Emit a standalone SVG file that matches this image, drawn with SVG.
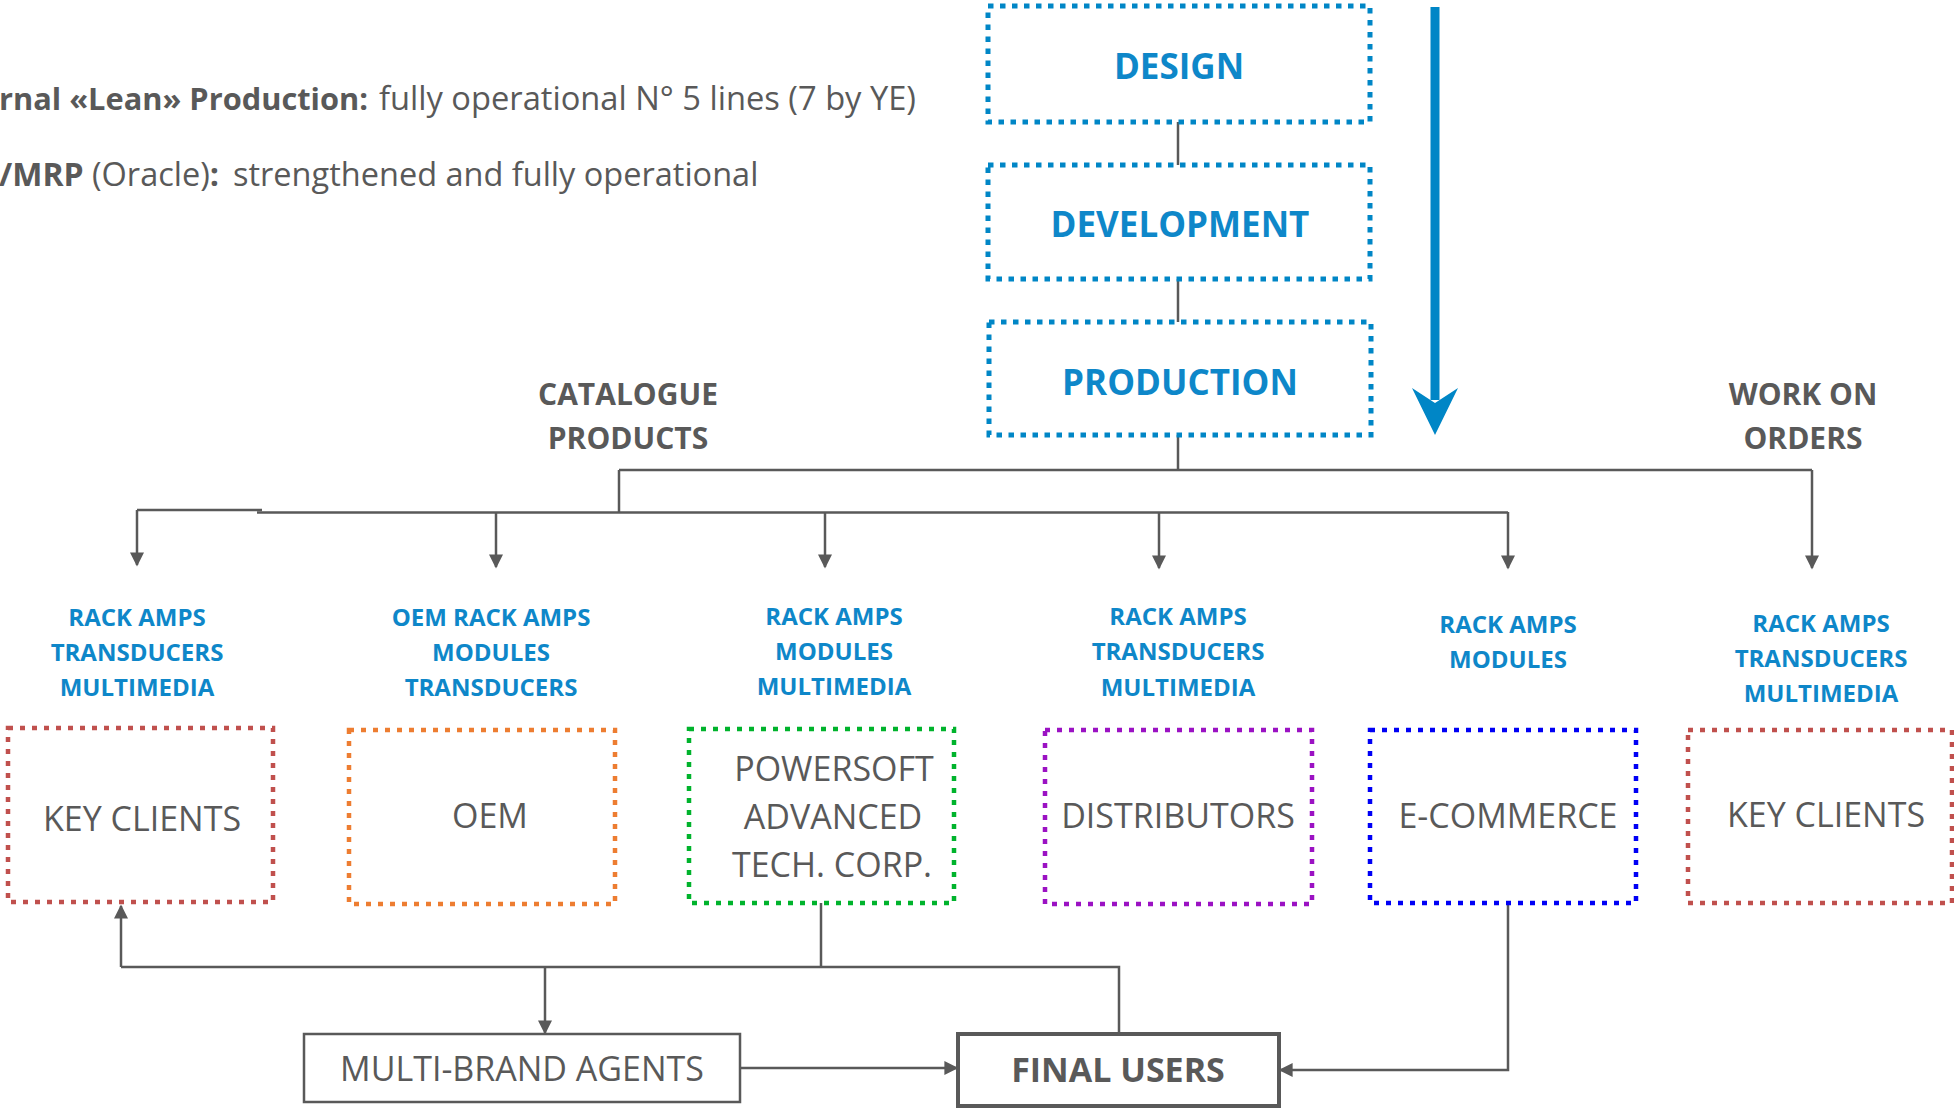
<svg xmlns="http://www.w3.org/2000/svg" width="1954" height="1108" viewBox="0 0 1954 1108">
<style>
.gray{fill:#595959;font-family:"Open Sans","Noto Sans",sans-serif}
.blue{fill:#0E87C9;font-family:"Open Sans","Noto Sans",sans-serif;font-weight:bold}
.title{font-size:35px;text-anchor:middle}
.lbl{font-size:24px;text-anchor:middle}
.node{font-size:34px;text-anchor:middle}
.head{font-size:30px;font-weight:bold;text-anchor:middle}
.dot{fill:none;stroke-width:4.5;stroke-dasharray:5 7}
.bdot{fill:#fff;stroke:#0086C6;stroke-width:5;stroke-dasharray:5.5 6.5}
.conn{fill:none;stroke:#595959;stroke-width:2.5}
.arr{marker-end:url(#ah)}
</style>
<defs>
<marker id="ah" viewBox="0 0 10 10" refX="9" refY="5" markerWidth="15" markerHeight="14" markerUnits="userSpaceOnUse" orient="auto">
<path d="M0,0 L10,5 L0,10 z" fill="#595959"/>
</marker>
</defs>
<rect width="1954" height="1108" fill="#fff"/>

<g id="notes">
<text class="gray" x="-1" y="110" font-size="31" font-weight="bold" textLength="369" lengthAdjust="spacingAndGlyphs">rnal «Lean» Production:</text>
<text class="gray" x="379" y="110" font-size="32.5" textLength="537" lengthAdjust="spacingAndGlyphs">fully operational N° 5 lines (7 by YE)</text>
<text class="gray" y="186" font-size="32.5"><tspan x="-1" font-weight="bold" font-size="32">/MRP</tspan><tspan x="92">(Oracle)</tspan><tspan font-weight="bold">:</tspan><tspan x="233">strengthened and fully operational</tspan></text>
</g>

<g id="connectors">
<line class="conn" x1="1178" y1="122" x2="1178" y2="165"/>
<line class="conn" x1="1178" y1="279" x2="1178" y2="322"/>
<path class="conn" d="M1178,435 V470"/>
<path class="conn" d="M619,470 H1812"/>
<path class="conn" d="M619,470 V512"/>
<path class="conn arr" d="M1812,470 V568"/>
<path class="conn" d="M137,510 H262"/>
<path class="conn" d="M257,512.5 H1508"/>
<path class="conn arr" d="M137,510 V565"/>
<path class="conn arr" d="M496,512 V567"/>
<path class="conn arr" d="M825,512 V567"/>
<path class="conn arr" d="M1159,512 V568"/>
<path class="conn arr" d="M1508,512 V568"/>
<path class="conn" d="M821,903 V967"/>
<path class="conn" d="M121,967 H1119 V1033"/>
<path class="conn arr" d="M121,967 V906"/>
<path class="conn arr" d="M545,967 V1033"/>
<path class="conn arr" d="M740,1068 H957"/>
<path class="conn arr" d="M1508,903 V1070 H1280"/>
<path d="M1435,7 V400" stroke="#0086C6" stroke-width="9" fill="none"/>
<polygon points="1412,388 1435,435 1458,388 1435,403" fill="#0086C6"/>
</g>

<g id="design">
<rect class="bdot" x="988" y="6" width="382" height="116"/>
<text class="blue title" x="1179" y="79">DESIGN</text>
</g>
<g id="development">
<rect class="bdot" x="988" y="165" width="382" height="114"/>
<text class="blue title" x="1180" y="237">DEVELOPMENT</text>
</g>
<g id="production">
<rect class="bdot" x="989" y="322" width="382" height="113"/>
<text class="blue title" x="1180" y="395">PRODUCTION</text>
</g>

<g id="heading-catalogue">
<text class="gray head" x="628" y="405">CATALOGUE</text>
<text class="gray head" x="628" y="449">PRODUCTS</text>
</g>
<g id="heading-orders">
<text class="gray head" x="1803" y="405">WORK ON</text>
<text class="gray head" x="1803" y="449">ORDERS</text>
</g>

<g id="key-clients-left">
<text class="blue lbl" x="137" y="626">RACK AMPS</text>
<text class="blue lbl" x="137" y="661">TRANSDUCERS</text>
<text class="blue lbl" x="137" y="696">MULTIMEDIA</text>
<rect class="dot" stroke="#C0504D" x="8" y="728" width="265" height="174"/>
<text class="gray node" x="142" y="831">KEY CLIENTS</text>
</g>

<g id="oem">
<text class="blue lbl" x="491" y="626">OEM RACK AMPS</text>
<text class="blue lbl" x="491" y="661">MODULES</text>
<text class="blue lbl" x="491" y="696">TRANSDUCERS</text>
<rect class="dot" stroke="#ED7D31" x="349" y="730" width="266" height="174"/>
<text class="gray node" x="490" y="828">OEM</text>
</g>

<g id="powersoft">
<text class="blue lbl" x="834" y="625">RACK AMPS</text>
<text class="blue lbl" x="834" y="660">MODULES</text>
<text class="blue lbl" x="834" y="695">MULTIMEDIA</text>
<rect class="dot" stroke="#00B32C" x="689" y="729" width="265" height="174"/>
<text class="gray node" x="834" y="781">POWERSOFT</text>
<text class="gray node" x="833" y="829">ADVANCED</text>
<text class="gray node" x="832" y="877">TECH. CORP.</text>
</g>

<g id="distributors">
<text class="blue lbl" x="1178" y="625">RACK AMPS</text>
<text class="blue lbl" x="1178" y="660">TRANSDUCERS</text>
<text class="blue lbl" x="1178" y="696">MULTIMEDIA</text>
<rect class="dot" stroke="#9B12C3" x="1045" y="730" width="267" height="174"/>
<text class="gray node" x="1178" y="828">DISTRIBUTORS</text>
</g>

<g id="e-commerce">
<text class="blue lbl" x="1508" y="633">RACK AMPS</text>
<text class="blue lbl" x="1508" y="668">MODULES</text>
<rect class="dot" stroke="#0000F5" x="1370" y="730" width="266" height="173"/>
<text class="gray node" x="1508" y="828">E-COMMERCE</text>
</g>

<g id="key-clients-right">
<text class="blue lbl" x="1821" y="632">RACK AMPS</text>
<text class="blue lbl" x="1821" y="667">TRANSDUCERS</text>
<text class="blue lbl" x="1821" y="702">MULTIMEDIA</text>
<rect class="dot" stroke="#C0504D" x="1688" y="730" width="264" height="173"/>
<text class="gray node" x="1826" y="827">KEY CLIENTS</text>
</g>

<g id="multi-brand-agents">
<rect x="304" y="1034" width="436" height="68" fill="#fff" stroke="#595959" stroke-width="2.5"/>
<text class="gray node" x="522" y="1081">MULTI-BRAND AGENTS</text>
</g>

<g id="final-users">
<rect x="958" y="1034" width="321" height="72" fill="#fff" stroke="#595959" stroke-width="4"/>
<text class="gray node" x="1118" y="1082" font-size="35" font-weight="bold">FINAL USERS</text>
</g>
</svg>
